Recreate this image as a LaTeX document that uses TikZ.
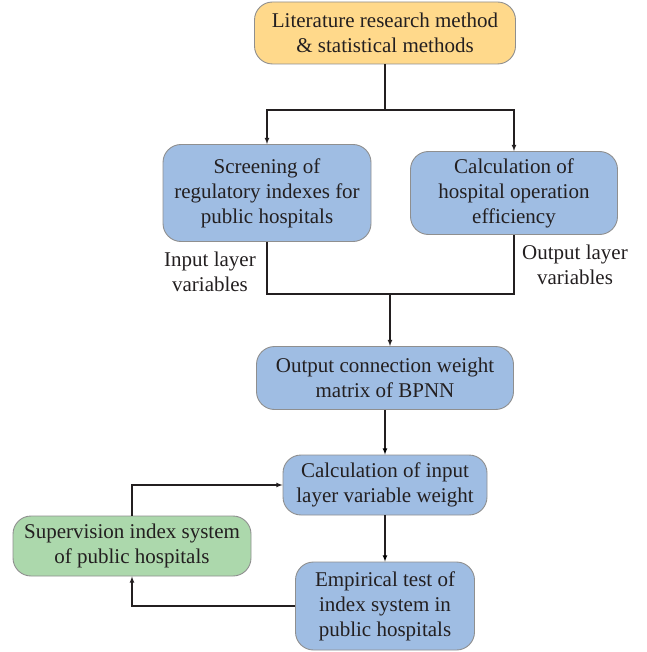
\documentclass[tikz,border=0pt]{standalone}
\usepackage{fontspec}
\setmainfont{Liberation Serif}
\usepackage{tikz}
\definecolor{boxyellow}{HTML}{FFD98B}
\definecolor{boxblue}{HTML}{9FBDE3}
\definecolor{boxgreen}{HTML}{ACD8AC}
\definecolor{boxline}{HTML}{8F8F8F}
\definecolor{ink}{HTML}{231F20}

\begin{document}
\begin{tikzpicture}[x=1pt,y=-1pt,
		block/.style={draw=boxline,line width=0.9pt,rounded corners=18pt,align=center,text=ink,
			font=\fontsize{21}{25}\selectfont,inner sep=2pt},
		lbl/.style={align=center,text=ink,font=\fontsize{21}{25}\selectfont,inner sep=0pt},
		wire/.style={draw=ink,line width=1.1pt}]
	\useasboundingbox (0,0) rectangle (646,652);
	        \node[block,fill=boxyellow,minimum width=261pt,minimum height=62pt] at (385,33)   (lit) {Literature research method\\\& statistical methods};
	        \node[block,fill=boxblue,minimum width=208pt,minimum height=97pt] at (267,193)  (screen) {Screening of\\regulatory indexes for\\public hospitals};
	        \node[block,fill=boxblue,minimum width=207pt,minimum height=83pt] at (514,193)  (calc) {Calculation of\\hospital operation\\efficiency};
	        \node[block,fill=boxblue,minimum width=257pt,minimum height=63pt] at (385,378)  (bpnn) {Output connection weight\\matrix of BPNN};
	        \node[block,fill=boxblue,minimum width=204pt,minimum height=60pt] at (385,485)  (weight) {Calculation of input\\layer variable weight};
	        \node[block,fill=boxblue,minimum width=179pt,minimum height=88pt] at (385,606)  (test) {Empirical test of\\index system in\\public hospitals};
	        \node[block,fill=boxgreen,minimum width=238pt,minimum height=60pt] at (132,546)  (superv) {Supervision index system\\of public hospitals};
	        \node[lbl] at (210,272) (inlab) {Input layer\\variables};
	        \node[lbl] at (575,265) (outlab) {Output layer\\variables};
	        \coordinate (split) at (385,110);
	        \coordinate (join) at (390,294);

			\draw[wire] (lit.south) -- (split);
			\draw[wire,-latex] (split) -| (screen.north);
			\draw[wire,-latex] (split) -| (calc.north);
			\draw[wire] (screen.south) |- (join) -| (calc.south);
			\draw[wire,-latex] (join) -- (join |- bpnn.north);
		\path[wire,-latex] (bpnn) edge (weight)
				(weight) edge (test);
		\draw[wire,-latex] (superv.north) |- (weight.west);
		\draw[wire,-latex] (test.west) -| (superv.south);
		\end{tikzpicture}
\end{document}
